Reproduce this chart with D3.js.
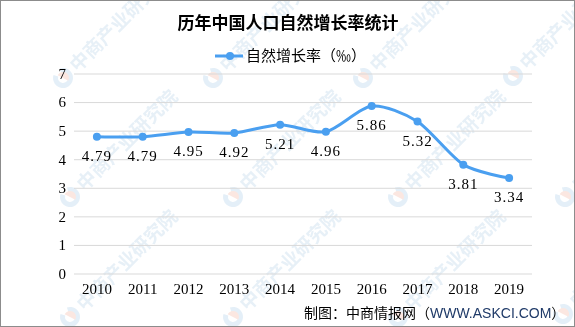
<!DOCTYPE html>
<html lang="zh">

<head>
  <meta charset="UTF-8">
  <title>历年中国人口自然增长率统计</title>
  <style>
    body {
      margin: 0;
      background: #fff;
    }
  </style>
</head>

<body>
  <div id="chart"></div>
  <script src="https://cdn.jsdelivr.net/npm/d3@7"></script>
  <script>
    const years = ['2010', '2011', '2012', '2013', '2014', '2015', '2016', '2017', '2018', '2019'];
    const rates = [4.79, 4.79, 4.95, 4.92, 5.21, 4.96, 5.86, 5.32, 3.81, 3.34];
    const yTicks = [0, 1, 2, 3, 4, 5, 6, 7];
    const seriesName = '自然增长率（‰）';
    const title = '历年中国人口自然增长率统计';
    const source = '制图：中商情报网（';
    const sourceSite = 'WWW.ASKCI.COM';

    const W = 575, H = 327;
    const plot = { left: 74, right: 532, top: 73.5, bottom: 273.5 };
    const lineColor = '#4a9ff0';
    const numFont = '"Liberation Serif", serif';
    const cjkFont = '"Noto Sans CJK SC", sans-serif';

    const svg = d3.select('#chart').append('svg')
      .attr('width', W)
      .attr('height', H);

    svg.append('clipPath').attr('id', 'frameClip')
      .append('rect')
      .attr('width', W).attr('height', H);

    // watermark (clipped to the frame like the original)
    const wm = svg.append('g')
      .attr('clip-path', 'url(#frameClip)')
      .attr('opacity', 0.5);
    const marks = [
      [63, 78], [213, 78], [363, 78], [513, 76],
      [70, 197], [233, 197], [398, 197], [565, 197],
      [70, 317], [233, 317], [398, 317], [563, 314]
    ];
    marks.forEach(function (p) {
      const g = wm.append('g').attr('transform', 'translate(' + p[0] + ',' + p[1] + ') rotate(-45)');
      g.append('path')
        .attr('d', d3.arc()({ innerRadius: 5, outerRadius: 10, startAngle: Math.PI * 0.15, endAngle: Math.PI * 1.85 }))
        .attr('fill', '#c9dff0');
      g.append('path')
        .attr('d', d3.arc()({ innerRadius: 0, outerRadius: 6, startAngle: -Math.PI * 0.1, endAngle: Math.PI * 0.9 }))
        .attr('fill', '#f6cfc3');
      g.append('text')
        .attr('x', 14)
        .attr('y', 7)
        .attr('font-family', cjkFont)
        .attr('font-size', 19)
        .attr('font-weight', 'bold')
        .attr('fill', '#cfe1ef')
        .text('中商产业研究院');
    });

    // frame
    svg.append('rect')
      .attr('x', 0.5).attr('y', 0.5)
      .attr('width', W - 1).attr('height', H - 1)
      .attr('fill', 'none')
      .attr('stroke', '#8c8c8c');

    const x = d3.scaleBand()
      .domain(years)
      .range([plot.left, plot.right]);

    const y = d3.scaleLinear()
      .domain([0, 7])
      .range([plot.bottom, plot.top]);

    // grid lines
    const yAxis = d3.axisLeft(y)
      .tickValues(yTicks)
      .tickSize(-(plot.right - plot.left))
      .tickPadding(8)
      .tickFormat(d3.format('d'));
    const yg = svg.append('g')
      .attr('transform', 'translate(' + plot.left + ',0)')
      .call(yAxis);
    yg.select('.domain').remove();
    yg.selectAll('line').attr('stroke', '#d9d9d9');
    yg.selectAll('text')
      .attr('font-family', numFont)
      .attr('font-size', 15)
      .attr('fill', '#000');

    const xAxis = d3.axisBottom(x).tickSize(0).tickPadding(10);
    const xg = svg.append('g')
      .attr('transform', 'translate(0,' + plot.bottom + ')')
      .call(xAxis);
    xg.select('.domain').remove();
    xg.selectAll('text')
      .attr('font-family', numFont)
      .attr('font-size', 15)
      .attr('fill', '#000');

    // series
    const cx = function (d, i) { return x(years[i]) + x.bandwidth() / 2; };
    const line = d3.line()
      .x(cx)
      .y(function (d) { return y(d); })
      .curve(d3.curveCardinal.tension(0.2));

    svg.append('path')
      .datum(rates)
      .attr('d', line)
      .attr('fill', 'none')
      .attr('stroke', lineColor)
      .attr('stroke-width', 3);

    svg.selectAll('.dot')
      .data(rates)
      .enter().append('circle')
      .attr('class', 'dot')
      .attr('cx', cx)
      .attr('cy', function (d) { return y(d); })
      .attr('r', 4)
      .attr('fill', lineColor);

    svg.selectAll('.lbl')
      .data(rates)
      .enter().append('text')
      .attr('class', 'lbl')
      .attr('x', cx)
      .attr('y', function (d) { return y(d) + 19; })
      .attr('dy', '0.35em')
      .attr('text-anchor', 'middle')
      .attr('font-family', numFont)
      .attr('font-size', 15)
      .attr('letter-spacing', 1)
      .text(function (d) { return d.toFixed(2); });

    // title
    svg.append('text')
      .attr('x', 288)
      .attr('y', 23)
      .attr('dy', '0.35em')
      .attr('text-anchor', 'middle')
      .attr('font-family', cjkFont)
      .attr('font-size', 17)
      .attr('font-weight', 'bold')
      .text(title);

    // legend
    const lg = svg.append('g').attr('transform', 'translate(215,56)');
    lg.append('line')
      .attr('x1', 0).attr('x2', 28)
      .attr('stroke', lineColor)
      .attr('stroke-width', 3);
    lg.append('circle')
      .attr('cx', 15).attr('r', 4)
      .attr('fill', lineColor);
    lg.append('text')
      .attr('x', 31)
      .attr('dy', '0.35em')
      .attr('font-family', cjkFont)
      .attr('font-size', 15)
      .text(seriesName);

    // source
    const src = svg.append('text')
      .attr('x', 304)
      .attr('y', 313)
      .attr('dy', '0.35em')
      .attr('font-family', cjkFont)
      .attr('font-size', 14);
    src.append('tspan').text(source);
    src.append('tspan')
      .attr('font-family', '"Liberation Sans", sans-serif')
      .attr('fill', '#1f3a68')
      .text(sourceSite);
    src.append('tspan').text('）');
  </script>
</body>

</html>
